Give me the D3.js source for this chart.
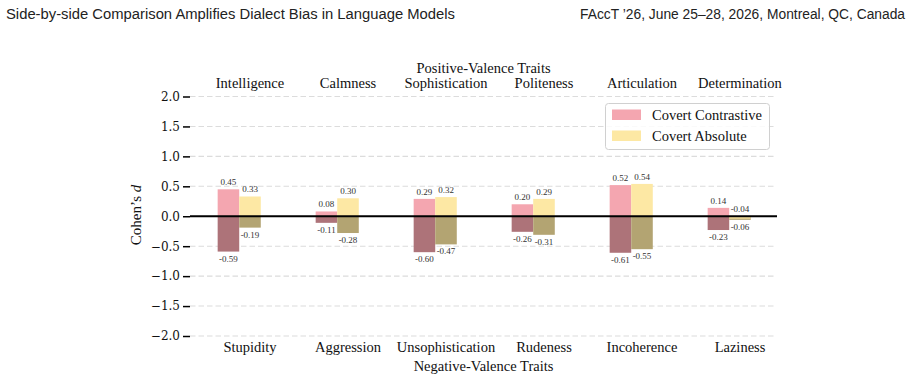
<!DOCTYPE html>
<html><head><meta charset="utf-8">
<script src="https://cdn.jsdelivr.net/npm/d3@7"></script>
<style>body{margin:0;background:#fff}svg{display:block}</style>
</head><body>
<svg id="c" width="913" height="381"></svg>
<script>
const positiveTraits = ["Intelligence","Calmness","Sophistication","Politeness","Articulation","Determination"];
const negativeTraits = ["Stupidity","Aggression","Unsophistication","Rudeness","Incoherence","Laziness"];
const posContrastive = [0.45, 0.08, 0.29, 0.20, 0.52, 0.14];
const posAbsolute    = [0.33, 0.30, 0.32, 0.29, 0.54, -0.04];
const negContrastive = [-0.59, -0.11, -0.60, -0.26, -0.61, -0.23];
const negAbsolute    = [-0.19, -0.28, -0.47, -0.31, -0.55, -0.06];
const yTicks = [-2.0, -1.5, -1.0, -0.5, 0.0, 0.5, 1.0, 1.5, 2.0];
const seriesNames = ["Covert Contrastive", "Covert Absolute"];

const svg = d3.select("#c");
const serif = "'Liberation Serif', 'Times New Roman', serif";
const L = 190, R = 775;
const y = d3.scaleLinear().domain([-2, 2]).range([336, 96.5]);
const x = d3.scaleLinear().domain([0, 5]).range([250, 740]);
const bw = 0.22;
const colors = {pc: "#f4a6b0", pa: "#fde8a4", nc: "#ad7379", na: "#b3a472"};

// header
svg.append("text").attr("x", 6).attr("y", 19).attr("font-family", "'Liberation Sans', sans-serif")
  .attr("font-size", 14).attr("fill", "#222").attr("textLength", 449).attr("lengthAdjust", "spacingAndGlyphs")
  .text("Side-by-side Comparison Amplifies Dialect Bias in Language Models");
svg.append("text").attr("x", 905).attr("y", 19).attr("text-anchor", "end").attr("font-family", "'Liberation Sans', sans-serif")
  .attr("font-size", 13.8).attr("fill", "#222")
  .text("FAccT ’26, June 25–28, 2026, Montreal, QC, Canada");

// grid
svg.append("g").selectAll("line").data(yTicks.filter(d => d !== 0)).join("line")
  .attr("x1", L).attr("x2", R).attr("y1", d => y(d)).attr("y2", d => y(d))
  .attr("stroke", "#dcdcdc").attr("stroke-width", 1.1).attr("stroke-dasharray", "5.5,3");

// y axis
const ax = svg.append("g").attr("transform", `translate(${L},0)`)
  .call(d3.axisLeft(y).tickValues(yTicks).tickSize(7).tickPadding(3)
    .tickFormat(d => (d < 0 ? "−" : "") + Math.abs(d).toFixed(1)));
ax.select(".domain").remove();
ax.selectAll(".tick line").attr("stroke", "#000").attr("stroke-width", 1.5);
ax.selectAll(".tick text").attr("font-family", "'DejaVu Serif', serif").attr("font-size", 12).attr("fill", "#111");

// y label
const yl = svg.append("text").attr("transform", `translate(141,215) rotate(-90)`).attr("text-anchor", "middle")
  .attr("font-family", serif).attr("font-size", 15).attr("fill", "#111");
yl.append("tspan").text("Cohen’s ");
yl.append("tspan").attr("font-style", "italic").text("d");

// bars
function bars(vals, off, color) {
  svg.append("g").selectAll("rect").data(vals).join("rect")
    .attr("x", (d, i) => x(i + off - bw / 2))
    .attr("width", (d, i) => x(i + off + bw / 2) - x(i + off - bw / 2))
    .attr("y", d => y(Math.max(d, 0)))
    .attr("height", d => Math.abs(y(d) - y(0)))
    .attr("fill", color);
}
bars(negContrastive, -bw, colors.nc);
bars(negAbsolute, 0, colors.na);
bars(posContrastive, -bw, colors.pc);
bars(posAbsolute, 0, colors.pa);

// zero line
svg.append("line").attr("x1", L).attr("x2", R + 2).attr("y1", y(0)).attr("y2", y(0))
  .attr("stroke", "#000").attr("stroke-width", 1.8);

// value labels
function labels(vals, off, above) {
  svg.append("g").selectAll("text").data(vals).join("text")
    .attr("x", (d, i) => x(i + off))
    .attr("y", d => above ? y(Math.max(d, 0)) - 4 : y(Math.min(d, 0)) + 10)
    .attr("text-anchor", "middle").attr("font-family", serif).attr("font-size", 9).attr("fill", "#333")
    .text(d => d.toFixed(2));
}
labels(posContrastive, -bw, true);
labels(posAbsolute, 0, true);
labels(negContrastive, -bw, false);
labels(negAbsolute, 0, false);

// category labels
svg.append("g").selectAll("text").data(positiveTraits).join("text")
  .attr("x", (d, i) => x(i)).attr("y", 88).attr("text-anchor", "middle")
  .attr("font-family", serif).attr("font-size", 14.5).attr("fill", "#111").text(d => d);
svg.append("g").selectAll("text").data(negativeTraits).join("text")
  .attr("x", (d, i) => x(i)).attr("y", 352).attr("text-anchor", "middle")
  .attr("font-family", serif).attr("font-size", 14.5).attr("fill", "#111").text(d => d);
svg.append("text").attr("x", (L + R) / 2 + 1).attr("y", 73).attr("text-anchor", "middle")
  .attr("font-family", serif).attr("font-size", 14.5).attr("fill", "#111").text("Positive-Valence Traits");
svg.append("text").attr("x", (L + R) / 2 + 1).attr("y", 371).attr("text-anchor", "middle")
  .attr("font-family", serif).attr("font-size", 14.5).attr("fill", "#111").text("Negative-Valence Traits");

// legend
const lg = svg.append("g");
lg.append("rect").attr("x", 605.5).attr("y", 103.5).attr("width", 164).attr("height", 46).attr("rx", 3)
  .attr("fill", "#fff").attr("fill-opacity", 0.85).attr("stroke", "#d0d0d0").attr("stroke-width", 1);
[colors.pc, colors.pa].forEach((c, i) => {
  lg.append("rect").attr("x", 612).attr("y", 109.5 + i * 21).attr("width", 29).attr("height", 10.5).attr("fill", c);
  lg.append("text").attr("x", 652).attr("y", 120 + i * 20.5).attr("font-family", serif).attr("font-size", 14.5)
    .attr("fill", "#111").text(seriesNames[i]);
});
</script>
</body></html>
